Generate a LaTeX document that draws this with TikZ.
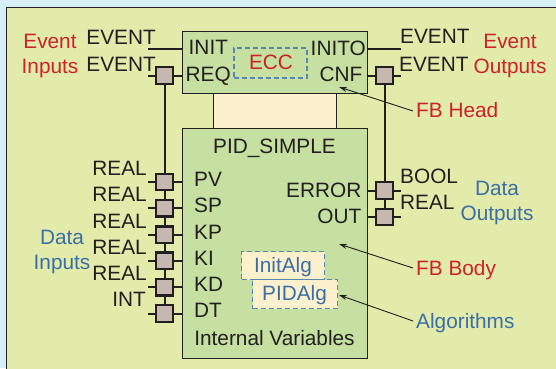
\documentclass[tikz,border=0pt]{standalone}
\usepackage{fontspec}
\setmainfont{Liberation Sans}
\usetikzlibrary{arrows.meta}
\definecolor{outerbg}{HTML}{D6EEF4}
\definecolor{panel}{HTML}{E3EBAB}
\definecolor{fbgreen}{HTML}{C5E0A0}
\definecolor{pale}{HTML}{FDF0CC}
\definecolor{sqfill}{HTML}{C6B8AE}
\definecolor{ink}{HTML}{231F20}
\definecolor{redtxt}{HTML}{CC2229}
\definecolor{bluetxt}{HTML}{3A6EA5}
\definecolor{dashblue}{HTML}{5A86AE}
\begin{document}
\begin{tikzpicture}[x=1pt,y=-1pt,
  every node/.style={font=\fontsize{20.8}{25}\selectfont, text=ink, inner sep=0pt},
  lbl/.style={text height=14.9pt, text depth=0pt},
  fbbox/.style={draw=ink, line width=1.3pt, fill=fbgreen, anchor=north west},
  neckbox/.style={draw=ink, line width=1.3pt, fill=pale, anchor=north west},
  portsq/.style={draw=ink, line width=2.4pt, fill=sqfill, minimum size=16.5pt},
  wire/.style={draw=ink, line width=2pt},
  callout/.style={draw=ink, line width=0.9pt, -{Stealth[length=8pt,width=5pt]}},
  redlbl/.style={text=redtxt, align=center},
  bluelbl/.style={text=bluetxt, align=center},
  alg/.style={draw=dashblue, dashed, dash pattern=on 5pt off 3pt, line width=1.2pt, fill=pale, text=bluetxt, anchor=north west},
]
\useasboundingbox (0,0) rectangle (556,368);
\clip (0,0) rectangle (556,368);
\fill[outerbg] (0,0) rectangle (556,368);
\draw[ink, line width=1.5pt, fill=panel] (6.5,7.5) rectangle (580,390);

% function block
\node[neckbox, minimum width=123pt, minimum height=35pt] (neck) at (213,93) {};
\node[fbbox, minimum width=185pt, minimum height=62pt] (head) at (182,31) {};
\node[fbbox, minimum width=185pt, minimum height=230pt] (body) at (182,128) {};
\node[draw=dashblue, dashed, dash pattern=on 5pt off 3pt, line width=1.2pt, minimum width=73pt, minimum height=30pt] (eccbox) at (270.5,63) {};
\node[lbl, text=redtxt] (ecc) at (271,62) {ECC};

% square centres
\coordinate (cREQ) at (164.5,75.5);
\coordinate (cPV) at (164.5,182);
\coordinate (cSP) at (164.5,208.3);
\coordinate (cKP) at (164.5,234.6);
\coordinate (cKI) at (164.5,260.9);
\coordinate (cKD) at (164.5,287.2);
\coordinate (cDT) at (164.5,313.5);
\coordinate (cCNF) at (384.5,75.5);
\coordinate (cERR) at (384.5,190.5);
\coordinate (cOUT) at (384.5,217);
\coordinate (lINIT) at (148,49);
\coordinate (rINITO) at (401,49);
\foreach \n in {REQ,PV,SP,KP,KI,KD,DT} { \coordinate (l\n) at ([xshift=-16.5pt]c\n); }
\foreach \n in {CNF,ERR,OUT} { \coordinate (r\n) at ([xshift=16.5pt]c\n); }

% wires
\draw[wire] (lINIT) -- (head.west |- lINIT);
\draw[wire] (head.east |- rINITO) -- (rINITO);
\draw[wire] (lREQ) -- (head.west |- lREQ);
\draw[wire] (head.east |- rCNF) -- (rCNF);
\foreach \n in {PV,SP,KP,KI,KD,DT} { \draw[wire] (l\n) -- (body.west |- l\n); }
\foreach \n in {ERR,OUT} { \draw[wire] (body.east |- r\n) -- (r\n); }
\draw[wire] (cREQ) -- (cDT);
\draw[wire] (cCNF) -- (cOUT);

% squares
\foreach \n in {REQ,PV,SP,KP,KI,KD,DT,CNF,ERR,OUT} { \node[portsq] (s\n) at (c\n) {}; }

% head ports
\node[lbl, anchor=west] (pINIT) at (188.5,47.5) {INIT};
\node[lbl, anchor=west] (pREQ) at (185.5,74) {REQ};
\node[lbl, anchor=east] (pINITO) at (366,48) {INITO};
\node[lbl, anchor=east] (pCNF) at (362.5,74) {CNF};
\node[lbl, anchor=east] (tEv1) at (156,37) {EVENT};
\node[lbl, anchor=east] (tEv2) at (156,64) {EVENT};
\node[lbl, anchor=west] (tEvO1) at (400,36) {EVENT};
\node[lbl, anchor=west] (tEvO2) at (399,64) {EVENT};

% body
\node[lbl] (title) at (274.5,146) {PID\_SIMPLE};
\node[lbl, anchor=west] (pPV) at (194,179) {PV};
\node[lbl, anchor=west] (pSP) at (194,205.3) {SP};
\node[lbl, anchor=west] (pKP) at (194,231.6) {KP};
\node[lbl, anchor=west] (pKI) at (194,257.9) {KI};
\node[lbl, anchor=west] (pKD) at (194,284.2) {KD};
\node[lbl, anchor=west] (pDT) at (194,310.5) {DT};
\node[lbl, anchor=east] (pERR) at (361.5,190) {ERROR};
\node[lbl, anchor=east] (pOUT) at (361.5,216.5) {OUT};
\node[lbl] (intvars) at (274.5,338) {Internal Variables};
\node[alg, minimum width=83pt, minimum height=28pt] (initalg) at (241,251) {};
\node[lbl, text=bluetxt] (initalgt) at (283,265) {InitAlg};
\node[alg, minimum width=85pt, minimum height=29pt] (pidalg) at (252,279) {};
\node[lbl, text=bluetxt] (pidalgt) at (294.5,293) {PIDAlg};

% data types
\node[lbl, anchor=east] (tPV) at (147,168) {REAL};
\node[lbl, anchor=east] (tSP) at (147,194.3) {REAL};
\node[lbl, anchor=east] (tKP) at (147,220.6) {REAL};
\node[lbl, anchor=east] (tKI) at (147,246.9) {REAL};
\node[lbl, anchor=east] (tKD) at (147,273.2) {REAL};
\node[lbl, anchor=east] (tDT) at (146,299.5) {INT};
\node[lbl, anchor=west] (tERR) at (400,176) {BOOL};
\node[lbl, anchor=west] (tOUT) at (400,202) {REAL};

% group labels
\node[redlbl] (evin) at (50,56) {Event\\Inputs};
\node[redlbl] (evout) at (510,56) {Event\\Outputs};
\node[bluelbl] (datain) at (62,252) {Data\\Inputs};
\node[bluelbl] (dataout) at (497,203) {Data\\Outputs};
\node[lbl, text=redtxt, anchor=west] (fbhead) at (416,110) {FB Head};
\node[lbl, text=redtxt, anchor=west] (fbbody) at (416,268) {FB Body};
\node[lbl, text=bluetxt, anchor=west] (algs) at (416,321) {Algorithms};

% callouts
\coordinate (tHead) at (339,87);
\coordinate (tBody) at (339,244);
\coordinate (tAlg) at (339,295);
\draw[callout] ([xshift=-3pt,yshift=-1pt]fbhead.west) -- (tHead);
\draw[callout] ([xshift=-3pt]fbbody.west) -- (tBody);
\draw[callout] ([xshift=-3pt]algs.west) -- (tAlg);
\end{tikzpicture}
\end{document}
